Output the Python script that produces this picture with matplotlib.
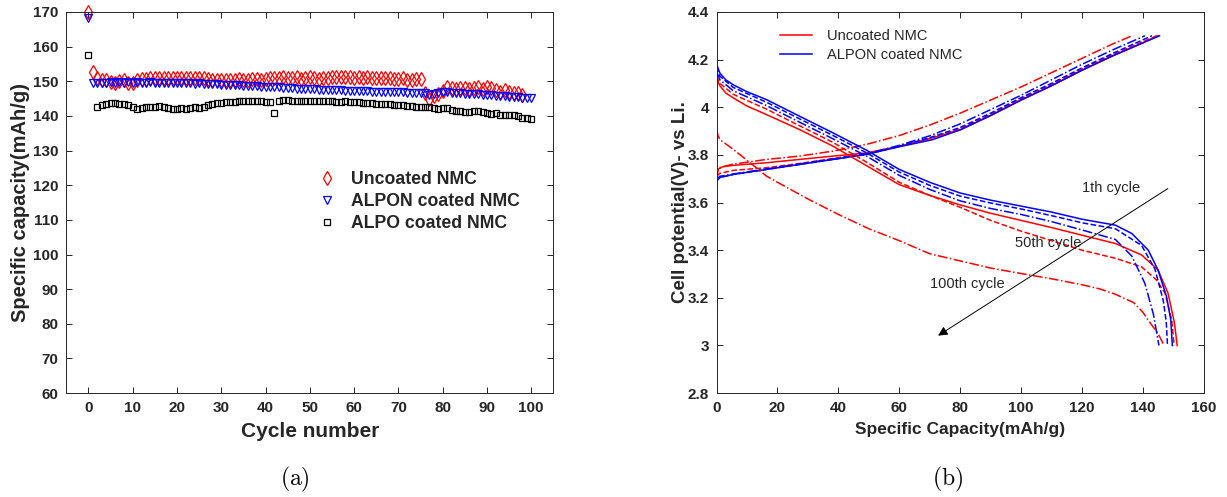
import matplotlib
matplotlib.use("Agg")
import matplotlib.pyplot as plt
from matplotlib.lines import Line2D

plt.rcParams["font.family"] = ["Liberation Sans", "DejaVu Sans"]
plt.rcParams["mathtext.fontset"] = "cm"

TXT = "#262626"

# ---- (a) cycling data ----
cyc_red = list(range(0, 99))
cap_red = [170.0, 152.7, 151.0, 150.4, 150.3, 149.8, 149.5, 150.2, 150.4, 149.6,
           149.4, 150.3, 150.6, 150.7, 150.8, 150.8, 150.9, 150.8, 150.9, 151.0,
           150.9, 151.0, 151.0, 150.9, 151.0, 150.9, 150.8, 150.7, 150.5, 150.4,
           150.3, 150.4, 150.5, 150.4, 150.6, 150.5, 150.4, 150.6, 150.7, 150.5,
           150.6, 150.8, 150.9, 151.0, 151.2, 151.0, 150.8, 151.1, 150.7, 150.9,
           151.1, 150.8, 150.6, 150.9, 151.0, 151.1, 151.2, 151.3, 151.2, 151.1,
           151.0, 151.1, 151.0, 151.1, 151.0, 150.9, 151.0, 150.8, 150.9, 150.7,
           150.6, 150.8, 150.5, 150.3, 150.7, 150.6, 146.5, 145.0, 145.6, 146.4,
           147.2, 148.2, 148.0, 147.8, 148.0, 148.1, 147.9, 148.0, 148.2, 147.9,
           148.3, 148.0, 147.6, 147.0, 147.4, 147.0, 146.6, 146.7, 146.0]

cyc_blue = list(range(0, 101))
cap_blue = [168.3, 149.5, 149.6, 149.5, 149.6, 149.7, 149.6, 149.7, 149.6, 149.7,
            149.6, 149.7, 149.6, 149.6, 149.7, 149.6, 149.5, 149.6, 149.5, 149.6,
            149.5, 149.4, 149.5, 149.4, 149.3, 149.4, 149.3, 149.2, 149.3, 149.1,
            149.0, 149.0, 148.9, 148.8, 148.8, 148.7, 148.6, 148.6, 148.5, 148.4,
            148.4, 148.3, 148.3, 148.2, 148.1, 148.0, 148.0, 147.9, 147.9, 147.8,
            147.8, 147.7, 147.6, 147.6, 147.5, 147.5, 147.4, 147.4, 147.3, 147.3,
            147.2, 147.2, 147.1, 147.1, 147.0, 147.0, 146.9, 146.9, 146.9, 146.8,
            146.8, 146.8, 146.7, 146.7, 146.6, 146.6, 146.5, 146.0, 146.2, 146.6,
            147.0, 146.8, 146.7, 146.6, 146.5, 146.4, 146.3, 146.3, 146.2, 146.1,
            146.0, 145.9, 145.8, 145.7, 145.6, 145.5, 145.4, 145.4, 145.3, 145.2,
            145.2]

cyc_black = [0] + list(range(2, 101))
cap_black = [157.6, 142.6, 143.2, 143.5, 143.6, 143.6, 143.5, 143.3, 143.0, 142.6,
             142.1, 142.3, 142.5, 142.5, 142.6, 142.9, 142.5, 142.2, 142.1, 142.1,
             142.2, 142.1, 142.3, 142.6, 142.4, 142.6, 143.0, 143.3, 143.6, 143.8,
             143.9, 143.9, 144.1, 144.3, 144.3, 144.3, 144.3, 144.3, 144.2, 144.0,
             144.1, 140.9, 144.4, 144.5, 144.6, 144.4, 144.4, 144.4, 144.3, 144.3,
             144.3, 144.3, 144.3, 144.3, 144.2, 144.0, 144.0, 144.3, 144.1, 144.0,
             143.9, 143.8, 143.8, 143.6, 143.5, 143.5, 143.5, 143.4, 143.2, 143.0,
             143.0, 142.9, 142.8, 142.7, 142.6, 142.7, 142.5, 142.2, 142.0, 142.4,
             142.2, 141.8, 141.5, 141.4, 141.2, 141.2, 141.3, 141.3, 141.1, 140.9,
             140.5, 140.8, 140.3, 140.2, 140.3, 140.2, 139.9, 139.5, 139.3, 139.1]

# ---- (b) charge / discharge curves (capacity mAh/g, potential V) ----
# charge
q_red_c1 = [0, 0.5, 2, 5.5, 16.4, 27.3, 38.3, 49.2, 60, 70, 80, 90, 100, 110, 120, 130, 140, 145]
v_red_c1 = [3.70, 3.74, 3.75, 3.756, 3.767, 3.781, 3.795, 3.808, 3.836, 3.868, 3.905, 3.965,
            4.03, 4.09, 4.155, 4.215, 4.27, 4.30]
q_red_c50 = [0, 1, 5.5, 16.4, 27.3, 38.3, 49.2, 60, 70, 80, 90, 100, 110, 120, 130, 140, 144.6]
v_red_c50 = [3.71, 3.722, 3.735, 3.746, 3.764, 3.785, 3.805, 3.836, 3.87, 3.91, 3.97,
             4.035, 4.095, 4.16, 4.22, 4.275, 4.30]
q_red_c100 = [0, 0.5, 5, 16.4, 27.3, 38.3, 49.2, 60, 70, 80, 90, 100, 110, 120, 130, 136.5]
v_red_c100 = [3.70, 3.745, 3.76, 3.781, 3.795, 3.816, 3.844, 3.881, 3.925, 3.975, 4.03,
              4.085, 4.145, 4.205, 4.265, 4.30]
q_blue_c1 = [0, 0, 1, 5.5, 16.4, 27.3, 38.3, 49.2, 60, 71, 80, 90, 100, 110, 120, 130, 140, 145.5]
v_blue_c1 = [3.15, 3.69, 3.705, 3.718, 3.739, 3.76, 3.781, 3.802, 3.834, 3.864, 3.905,
             3.965, 4.03, 4.09, 4.155, 4.215, 4.27, 4.30]
q_blue_c50 = [0, 1, 5.5, 16.4, 27.3, 38.3, 49.2, 60, 70, 80, 90, 100, 110, 120, 130, 143]
v_blue_c50 = [3.69, 3.705, 3.718, 3.739, 3.76, 3.781, 3.802, 3.836, 3.872, 3.915, 3.975,
              4.04, 4.10, 4.165, 4.225, 4.30]
q_blue_c100 = [0, 1, 5.5, 16.4, 27.3, 38.3, 49.2, 60, 70, 80, 90, 100, 110, 120, 130, 140.7]
v_blue_c100 = [3.695, 3.71, 3.72, 3.741, 3.762, 3.783, 3.804, 3.84, 3.88, 3.93, 3.99,
               4.05, 4.115, 4.18, 4.24, 4.30]

# discharge
q_red_d1 = [0, 0.3, 1.1, 3, 5.5, 10, 16.4, 27.3, 38.3, 49.2, 60, 70, 80, 90, 100, 110,
            120, 131, 139.6, 145, 148.3, 150.4, 151.3]
v_red_d1 = [4.13, 4.11, 4.09, 4.06, 4.039, 4.005, 3.969, 3.906, 3.836, 3.755, 3.675, 3.63,
            3.59, 3.555, 3.525, 3.495, 3.463, 3.428, 3.38, 3.317, 3.219, 3.094, 3.0]
q_red_d50 = [0, 1.1, 5.5, 16.4, 27.3, 38.3, 49.2, 60, 70, 80, 90, 100, 110, 120, 131,
             139.6, 144.5, 147.3, 149.5, 150.3]
v_red_d50 = [4.13, 4.10, 4.054, 3.992, 3.922, 3.852, 3.77, 3.685, 3.63, 3.58, 3.525, 3.48,
             3.44, 3.40, 3.366, 3.33, 3.275, 3.219, 3.107, 3.0]
q_red_d100 = [0, 0.5, 1.1, 5.5, 10.9, 16.4, 20, 30, 40, 50, 60, 70, 80, 90, 100, 110, 120,
              126, 131, 137, 140, 142.3, 145, 147]
v_red_d100 = [3.906, 3.88, 3.864, 3.823, 3.768, 3.711, 3.685, 3.615, 3.55, 3.49, 3.44,
              3.385, 3.355, 3.325, 3.302, 3.28, 3.255, 3.237, 3.215, 3.18, 3.14, 3.097,
              3.05, 3.0]
q_blue_d1 = [0, 0.3, 1.1, 3, 5.5, 10, 16.4, 27.3, 38.3, 49.2, 60, 70, 80, 90, 100, 110,
             120, 131, 136.4, 141.8, 145, 147.8, 149.2, 149.7]
v_blue_d1 = [4.19, 4.17, 4.143, 4.115, 4.094, 4.065, 4.032, 3.962, 3.892, 3.82, 3.739,
             3.685, 3.64, 3.61, 3.585, 3.56, 3.53, 3.505, 3.47, 3.40, 3.317, 3.205,
             3.107, 3.0]
q_blue_d50 = [0, 1.1, 5.5, 16.4, 27.3, 38.3, 49.2, 60, 70, 80, 90, 100, 110, 120, 131,
              139.6, 144, 146.7, 147.7, 148.1]
v_blue_d50 = [4.17, 4.13, 4.083, 4.021, 3.951, 3.881, 3.809, 3.728, 3.672, 3.627, 3.598,
              3.573, 3.545, 3.515, 3.49, 3.42, 3.32, 3.19, 3.10, 3.0]
q_blue_d100 = [0, 1.1, 5.5, 16.4, 27.3, 38.3, 49.2, 60, 70, 80, 90, 100, 110, 120, 131,
               136.4, 140.7, 143.5, 145.3]
v_blue_d100 = [4.15, 4.115, 4.069, 4.007, 3.937, 3.867, 3.795, 3.714, 3.655, 3.607, 3.575,
               3.55, 3.52, 3.485, 3.445, 3.375, 3.26, 3.13, 3.0]

fig = plt.figure(figsize=(12.27, 4.97), dpi=100)
ax1 = fig.add_axes([0.054, 0.209, 0.397, 0.767])
ax2 = fig.add_axes([0.584, 0.209, 0.397, 0.767])

# markers are not clipped at the frame (the first points sit on the top edge)
ms_kw = dict(linestyle="none", markerfacecolor="none", markeredgewidth=0.9, clip_on=False)
ax1.plot(cyc_red, cap_red, marker="d", color="red", markersize=6.8, label="Uncoated NMC", **ms_kw)
ax1.plot(cyc_blue, cap_blue, marker="v", color="blue", markersize=6, label="ALPON coated NMC", **ms_kw)
ax1.plot(cyc_black, cap_black, marker="s", color="black", markersize=4, label="ALPO coated NMC", **ms_kw)
ax1.set_xlim(-5, 105)
ax1.set_ylim(60, 170)
ax1.set_xticks(range(0, 101, 10))
ax1.set_yticks(range(60, 171, 10))
ax1.set_xlabel("Cycle number", fontsize=15, fontweight="bold", color=TXT, labelpad=5)
ax1.set_ylabel("Specific capacity(mAh/g)", fontsize=14.5, fontweight="bold", color=TXT, labelpad=2)
ax1.legend(loc="upper left", bbox_to_anchor=(0.484, 0.625), frameon=False,
           prop={"weight": "bold", "size": 12.7}, handlelength=1.0, handletextpad=0.9,
           labelspacing=0.3, labelcolor=TXT)

lw = 1.1
ax2.plot(q_red_c1, v_red_c1, color="red", ls="-", lw=lw)
ax2.plot(q_red_c50, v_red_c50, color="red", ls="--", lw=lw)
ax2.plot(q_red_c100, v_red_c100, color="red", ls="-.", lw=lw)
ax2.plot(q_blue_c1, v_blue_c1, color="blue", ls="-", lw=lw)
ax2.plot(q_blue_c50, v_blue_c50, color="blue", ls="--", lw=lw)
ax2.plot(q_blue_c100, v_blue_c100, color="blue", ls="-.", lw=lw)
ax2.plot(q_red_d1, v_red_d1, color="red", ls="-", lw=lw)
ax2.plot(q_red_d50, v_red_d50, color="red", ls="--", lw=lw)
ax2.plot(q_red_d100, v_red_d100, color="red", ls="-.", lw=lw)
ax2.plot(q_blue_d1, v_blue_d1, color="blue", ls="-", lw=lw)
ax2.plot(q_blue_d50, v_blue_d50, color="blue", ls="--", lw=lw)
ax2.plot(q_blue_d100, v_blue_d100, color="blue", ls="-.", lw=lw)
ax2.set_xlim(0, 160)
ax2.set_ylim(2.8, 4.4)
ax2.set_xticks(range(0, 161, 20))
ax2.set_yticks([2.8, 3.0, 3.2, 3.4, 3.6, 3.8, 4.0, 4.2, 4.4])
ax2.set_yticklabels(["2.8", "3", "3.2", "3.4", "3.6", "3.8", "4", "4.2", "4.4"])
ax2.set_xlabel("Specific Capacity(mAh/g)", fontsize=12.5, fontweight="bold", color=TXT, labelpad=5)
ax2.set_ylabel("Cell potential(V)- vs Li.", fontsize=13.5, fontweight="bold", color=TXT, labelpad=-1)
handles = [Line2D([], [], color="red", lw=lw), Line2D([], [], color="blue", lw=lw)]
ax2.legend(handles, ["Uncoated NMC", "ALPON coated NMC"], loc="upper left",
           bbox_to_anchor=(0.104, 0.99), frameon=False, fontsize=10.5,
           handlelength=2.2, handletextpad=1.0, labelspacing=0.35, labelcolor=TXT)
ax2.annotate("", xy=(72, 3.035), xytext=(149, 3.665),
             arrowprops=dict(arrowstyle="-|>", color="black", lw=0.7, mutation_scale=14))
ax2.text(120, 3.66, "1th cycle", fontsize=10.5, color=TXT, va="center")
ax2.text(98, 3.43, "50th cycle", fontsize=10.5, color=TXT, va="center")
ax2.text(70, 3.257, "100th cycle", fontsize=10.5, color=TXT, va="center")

for ax in (ax1, ax2):
    ax.tick_params(direction="in", top=True, right=True, length=4, width=0.7,
                   colors=TXT, labelsize=11, pad=5.5)
    for lab in ax.get_xticklabels() + ax.get_yticklabels():
        lab.set_fontweight("bold")
    for sp in ax.spines.values():
        sp.set_color(TXT)
        sp.set_linewidth(0.7)

fig.text(0.240, 0.035, r"$\mathrm{(a)}$", fontsize=17, ha="center", va="center")
fig.text(0.772, 0.035, r"$\mathrm{(b)}$", fontsize=17, ha="center", va="center")

fig.savefig("out.png", dpi=100)
